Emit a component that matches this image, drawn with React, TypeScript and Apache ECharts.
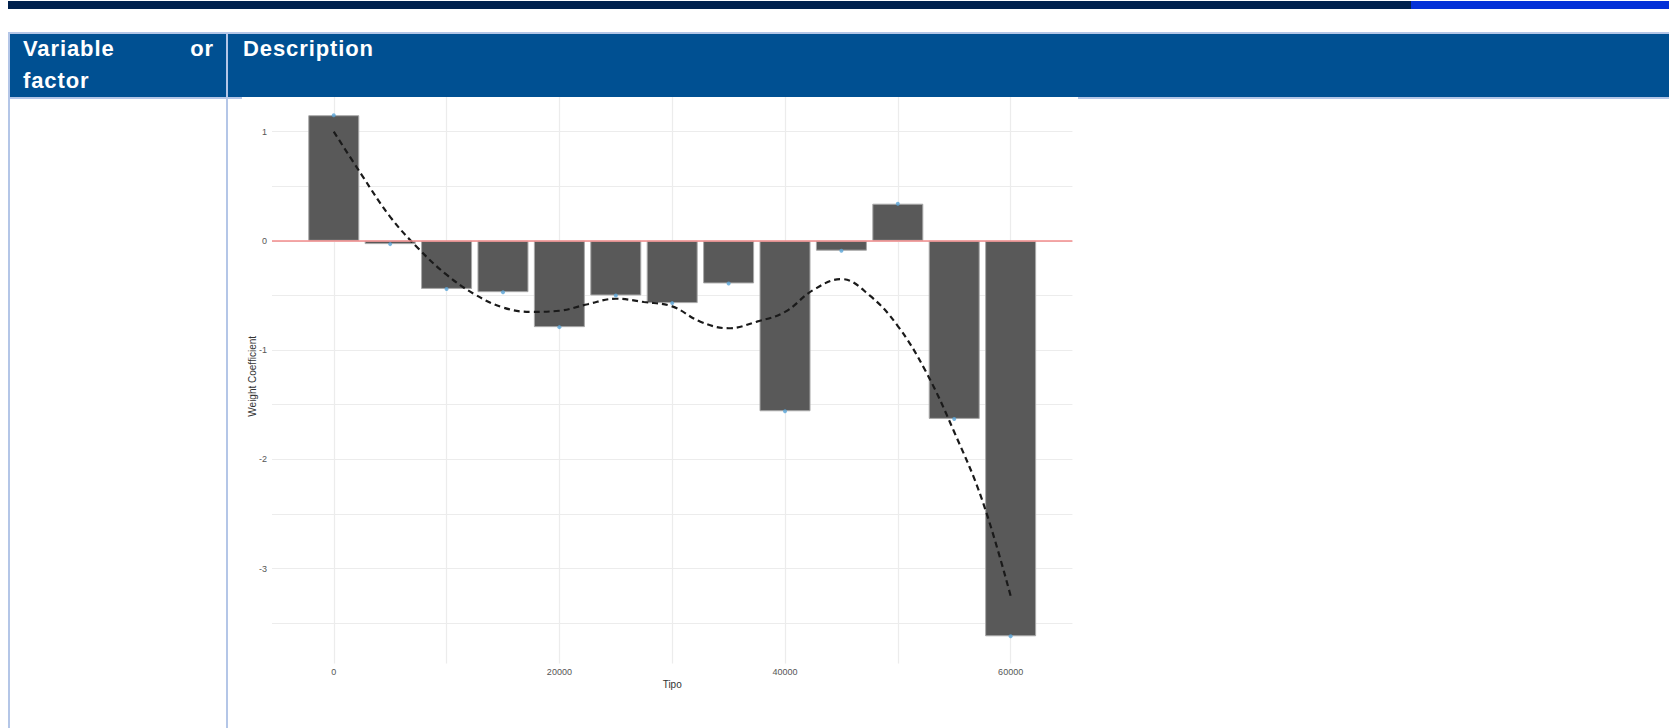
import React, { useEffect, useRef } from "react";
import * as echarts from "echarts";

// ---- data ----
const tipo = [0, 5000, 10000, 15000, 20000, 25000, 30000, 35000, 40000, 45000, 50000, 55000, 60000];
const weights = [1.15, -0.03, -0.44, -0.47, -0.79, -0.5, -0.57, -0.39, -1.56, -0.09, 0.34, -1.63, -3.62];
const smoothX = [0, 2500, 5000, 7500, 10000, 12500, 15000, 17500, 20000, 22500, 25000, 27500, 30000, 32500, 35000, 37500, 40000, 42500, 45000, 47500, 50000, 52500, 55000, 57500, 60000];
const smoothY = [1.0, 0.6, 0.22, -0.07, -0.31, -0.49, -0.61, -0.65, -0.64, -0.58, -0.53, -0.56, -0.6, -0.74, -0.8, -0.74, -0.65, -0.45, -0.35, -0.5, -0.78, -1.2, -1.75, -2.38, -3.25];
const xGrid = [0, 10000, 20000, 30000, 40000, 50000, 60000];
const xLabels = [0, 20000, 40000, 60000];
const yGrid = [-3.5, -3, -2.5, -2, -1.5, -1, -0.5, 0, 0.5, 1];
const yLabels = [-3, -2, -1, 0, 1];

const FONT = "'Liberation Sans', Arial, sans-serif";

function Chart() {
  const ref = useRef<HTMLDivElement>(null);
  useEffect(() => {
    if (!ref.current) return;
    const chart = echarts.init(ref.current, null, { renderer: "svg" });
    chart.setOption({
      animation: false,
      backgroundColor: "transparent",
      textStyle: { fontFamily: FONT },
      grid: { left: 30, right: 5.6, top: 12, bottom: 64.4, containLabel: false, outerBoundsMode: "none" },
      xAxis: {
        type: "value",
        min: -5475,
        max: 65475,
        name: "Tipo",
        nameLocation: "middle",
        nameGap: 16,
        nameMoveOverlap: false,
        nameTextStyle: { fontSize: 10, color: "#333", fontFamily: FONT },
        axisLine: { show: false },
        axisTick: { show: false, customValues: xGrid },
        axisLabel: {
          customValues: xLabels,
          fontSize: 9,
          color: "#555",
          margin: 4,
          fontFamily: FONT,
          formatter: (v: number) => String(v),
        },
        splitLine: { show: true, lineStyle: { color: "#ececec", width: 1.2 } },
      },
      yAxis: {
        type: "value",
        min: -3.87,
        max: 1.39,
        name: "Weight Coefficient",
        nameLocation: "middle",
        nameGap: 14.5,
        nameMoveOverlap: false,
        nameTextStyle: { fontSize: 10, color: "#333", fontFamily: FONT },
        axisLine: { show: false },
        axisTick: { show: false, customValues: yGrid },
        axisLabel: {
          customValues: yLabels,
          fontSize: 9,
          color: "#555",
          margin: 5,
          fontFamily: FONT,
          formatter: (v: number) => String(v),
        },
        splitLine: { show: true, lineStyle: { color: "#ececec", width: 1.2 } },
      },
      series: [
        {
          type: "bar",
          data: tipo.map((t, i) => [t, weights[i]]),
          barWidth: 51,
          itemStyle: { color: "#595959", borderColor: "#a8a8a8", borderWidth: 1 },
          z: 2,
          markLine: {
            silent: true,
            symbol: "none",
            label: { show: false },
            lineStyle: { color: "#f28b8b", width: 1.5, type: "solid" },
            data: [{ yAxis: 0 }],
          },
        },
        {
          type: "line",
          data: smoothX.map((x, i) => [x, smoothY[i]]),
          smooth: 0.4,
          showSymbol: false,
          symbol: "none",
          lineStyle: { color: "#1a1a1a", width: 2.2, type: [6, 4] },
          z: 4,
        },
        {
          type: "scatter",
          data: tipo.map((t, i) => [t, weights[i]]),
          symbolSize: 4,
          itemStyle: { color: "#5aa5d8" },
          z: 5,
        },
      ],
    });
    return () => chart.dispose();
  }, []);
  return <div ref={ref} style={{ position: "absolute", left: 0, top: -20, width: 836, height: 651 }} />;
}

export default function App() {
  const lb = "#b4c6e7";
  const hdr = "#005092";
  const textStyle: React.CSSProperties = {
    position: "absolute",
    color: "#fff",
    fontFamily: FONT,
    fontWeight: "bold",
    fontSize: 22,
    lineHeight: "31.6px",
    letterSpacing: 0.9,
    whiteSpace: "nowrap",
  };
  return (
    <div style={{ position: "absolute", left: 0, top: 0, width: 1669, height: 728, overflow: "hidden", background: "#fff" }}>
      {/* top bar */}
      <div style={{ position: "absolute", left: 8, top: 1, width: 1403, height: 8, background: "#00214d" }} />
      <div style={{ position: "absolute", left: 1411, top: 1, width: 258, height: 8, background: "#0431d8" }} />
      {/* header */}
      <div style={{ position: "absolute", left: 8, top: 32, width: 1661, height: 2, background: lb }} />
      <div style={{ position: "absolute", left: 8, top: 34, width: 1661, height: 63, background: hdr }} />
      <div style={{ position: "absolute", left: 8, top: 97, width: 1661, height: 2, background: lb }} />
      <div style={{ position: "absolute", left: 8, top: 32, width: 2, height: 696, background: lb }} />
      <div style={{ position: "absolute", left: 226, top: 34, width: 2, height: 694, background: lb }} />
      <div style={{ ...textStyle, left: 23, top: 33, width: 191, display: "flex", justifyContent: "space-between" }}>
        <span>Variable</span>
        <span>or</span>
      </div>
      <div style={{ ...textStyle, left: 23, top: 64.6 }}>factor</div>
      <div style={{ ...textStyle, left: 243, top: 33 }}>Description</div>
      {/* chart image */}
      <div style={{ position: "absolute", left: 242, top: 97, width: 836, height: 631, overflow: "hidden", background: "#fff" }}>
        <Chart />
      </div>
    </div>
  );
}
